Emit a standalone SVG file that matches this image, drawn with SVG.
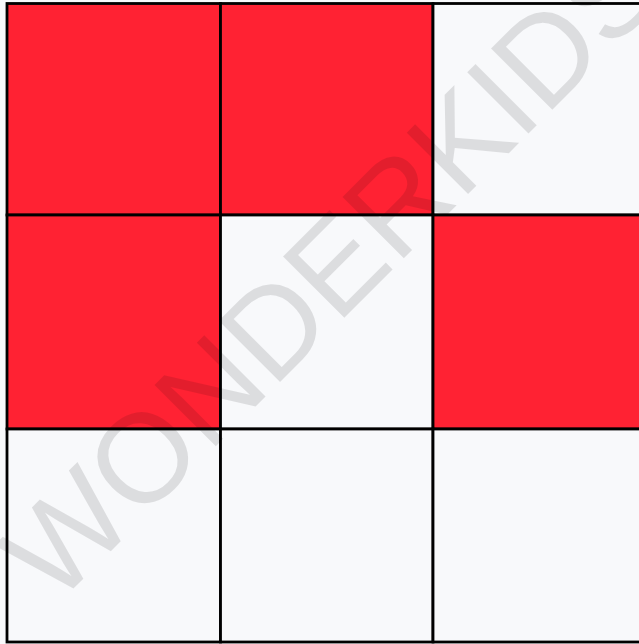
<svg xmlns="http://www.w3.org/2000/svg" width="639" height="644" viewBox="0 0 639 644">
  <style>
    .red { fill: #ff2233; }
    .white { fill: #f8f9fb; }
    .cell { stroke: #000; stroke-width: 2.8; }
    .wm { font-family: "Liberation Sans", Arial, sans-serif; font-size: 126px; fill: #000; fill-opacity: 0.11; }
  </style>
  <rect x="0" y="0" width="639" height="644" fill="#f8f9fb"/>
  <g id="cell-r1c1"><rect class="cell red" x="7" y="3.5" width="213.5" height="211.5"/></g>
  <g id="cell-r1c2"><rect class="cell red" x="220.5" y="3.5" width="212.5" height="211.5"/></g>
  <g id="cell-r1c3"><rect class="cell white" x="433" y="3.5" width="213" height="211.5"/></g>
  <g id="cell-r2c1"><rect class="cell red" x="7" y="215" width="213.5" height="214"/></g>
  <g id="cell-r2c2"><rect class="cell white" x="220.5" y="215" width="212.5" height="214"/></g>
  <g id="cell-r2c3"><rect class="cell red" x="433" y="215" width="213" height="214"/></g>
  <g id="cell-r3c1"><rect class="cell white" x="7" y="429" width="213.5" height="213"/></g>
  <g id="cell-r3c2"><rect class="cell white" x="220.5" y="429" width="212.5" height="213"/></g>
  <g id="cell-r3c3"><rect class="cell white" x="433" y="429" width="213" height="213"/></g>
  <g id="connectors"></g>
  <text class="wm" transform="translate(55,607) rotate(-45)" x="0" y="0">WONDERKIDS</text>
</svg>
